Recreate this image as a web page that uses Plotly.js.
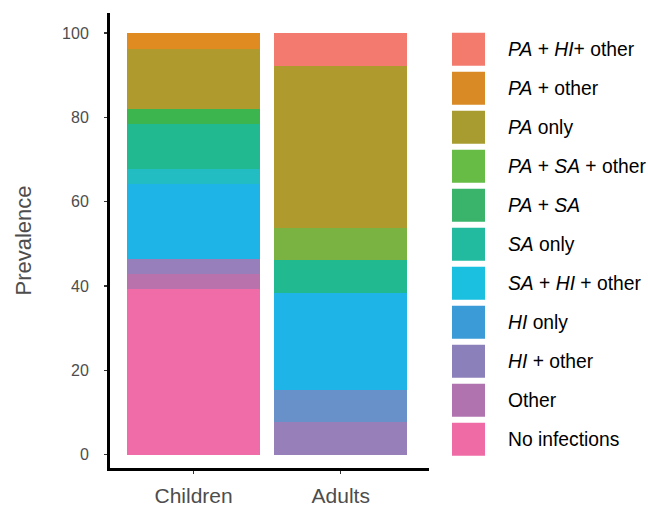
<!DOCTYPE html>
<html>
<head>
<meta charset="utf-8">
<script src="https://cdn.plot.ly/plotly-3.0.1.min.js"></script>
<style>html,body{margin:0;padding:0;background:#fff;}#chart{width:648px;height:507px;}</style>
</head>
<body>
<div id="chart"></div>
<script>
// ---- data ----
const groups = ['Children', 'Adults'];
// stacking order, bottom to top
const categories = ['No infections', 'Other', 'HI + other', 'HI only', 'SA + HI + other',
  'SA only', 'PA + SA', 'PA + SA + other', 'PA only', 'PA + other', 'PA + HI + other'];
const noInfections  = [39.3, 0];
const other         = [3.5, 0];
const hiOther       = [3.6, 7.8];
const hiOnly        = [17.8, 7.6];
const saHiOther     = [3.5, 22.9];
const saOnly        = [10.8, 7.9];
const paSa          = [3.5, 0];
const paSaOther     = [0, 7.6];
const paOnly        = [14.2, 38.4];
const paOther       = [3.8, 0];
const paHiOther     = [0, 7.8];
const seriesValues = [noInfections, other, hiOther, hiOnly, saHiOther, saOnly, paSa, paSaOther, paOnly, paOther, paHiOther];
const yTickValues = [0, 20, 40, 60, 80, 100];

// ---- styles ----
const barColors = [
  ['#F06CA8', '#F06CA8'], ['#BA72AD', '#BA72AD'], ['#967FBA', '#977FBA'], ['#1EB4E8', '#6891C9'],
  ['#21BDC3', '#1EB4E8'], ['#21B98F', '#21B98F'], ['#3CB54E', '#3CB54E'], ['#7AB342', '#7AB342'],
  ['#AF9A2E', '#AF9A2E'], ['#DF8B22', '#DF8B22'], ['#F37A6F', '#F37A6F']];
const legendColors = ['#EF6BA6', '#B173B0', '#8C80BB', '#3A9BD6', '#1BBFE0', '#22BBA0',
  '#39B46A', '#66BC45', '#A89C30', '#DA8A24', '#F37B6E'];
const legendLabels = ['No infections', 'Other', '<i>HI</i> + other', '<i>HI</i> only',
  '<i>SA</i> + <i>HI</i> + other', '<i>SA</i> only', '<i>PA</i> + <i>SA</i>',
  '<i>PA</i> + <i>SA</i> + other', '<i>PA</i> only', '<i>PA</i> + other', '<i>PA</i> + <i>HI</i>+ other'];

const FONT = 'Liberation Sans, Arial, Helvetica, sans-serif';
const W = 648, H = 507;
const M = {l: 110, r: 219, t: 13, b: 39};
const pw = W - M.l - M.r, ph = H - M.t - M.b;
const px = x => (x - M.l) / pw;
const py = y => 1 - (y - M.t) / ph;

const traces = categories.map((c, i) => ({
  type: 'bar', name: c, x: groups, y: seriesValues[i],
  marker: {color: barColors[i], line: {width: 0}},
  showlegend: false
}));

// manual legend (top item = last category)
const shapes = [], annotations = [];
const n = categories.length;
for (let k = 0; k < n; k++) {
  const i = n - 1 - k;
  const y0 = 32.7 + 39 * k;
  shapes.push({type: 'rect', xref: 'paper', yref: 'paper',
    x0: px(452), x1: px(485), y0: py(y0), y1: py(y0 + 33),
    fillcolor: legendColors[i], line: {width: 0}});
  annotations.push({xref: 'paper', yref: 'paper', x: px(506), y: py(y0 + 16.5),
    xanchor: 'left', yanchor: 'middle', showarrow: false, text: legendLabels[i],
    font: {size: 19.3, color: '#000', family: FONT}});
}
// y-axis title
annotations.push({xref: 'paper', yref: 'paper', x: px(23), y: py(240.5),
  xanchor: 'center', yanchor: 'middle', showarrow: false, textangle: -90,
  text: 'Prevalence', font: {size: 22, color: '#4D4D4D', family: FONT}});

const layout = {
  width: W, height: H,
  margin: M,
  paper_bgcolor: '#fff', plot_bgcolor: '#fff',
  barmode: 'stack', bargap: 0.095,
  font: {family: FONT, color: '#4D4D4D'},
  showlegend: false,
  xaxis: {
    range: [-0.568, 1.6], showgrid: false, zeroline: false,
    showline: true, linecolor: '#000', linewidth: 3,
    ticks: 'outside', ticklen: 3, tickwidth: 1.5, tickcolor: '#333',
    tickfont: {size: 21, color: '#4D4D4D'}, ticklabelstandoff: 4
  },
  yaxis: {
    range: [-3.2, 104.8], showgrid: false, zeroline: false,
    showline: true, linecolor: '#000', linewidth: 3,
    ticks: 'outside', ticklen: 3, tickwidth: 1.5, tickcolor: '#333',
    tickvals: yTickValues, ticktext: yTickValues.map(String),
    tickfont: {size: 16, color: '#4D4D4D'}, ticklabelstandoff: 12
  },
  shapes: shapes,
  annotations: annotations
};

Plotly.newPlot('chart', traces, layout, {displayModeBar: false, staticPlot: true});
</script>
</body>
</html>
